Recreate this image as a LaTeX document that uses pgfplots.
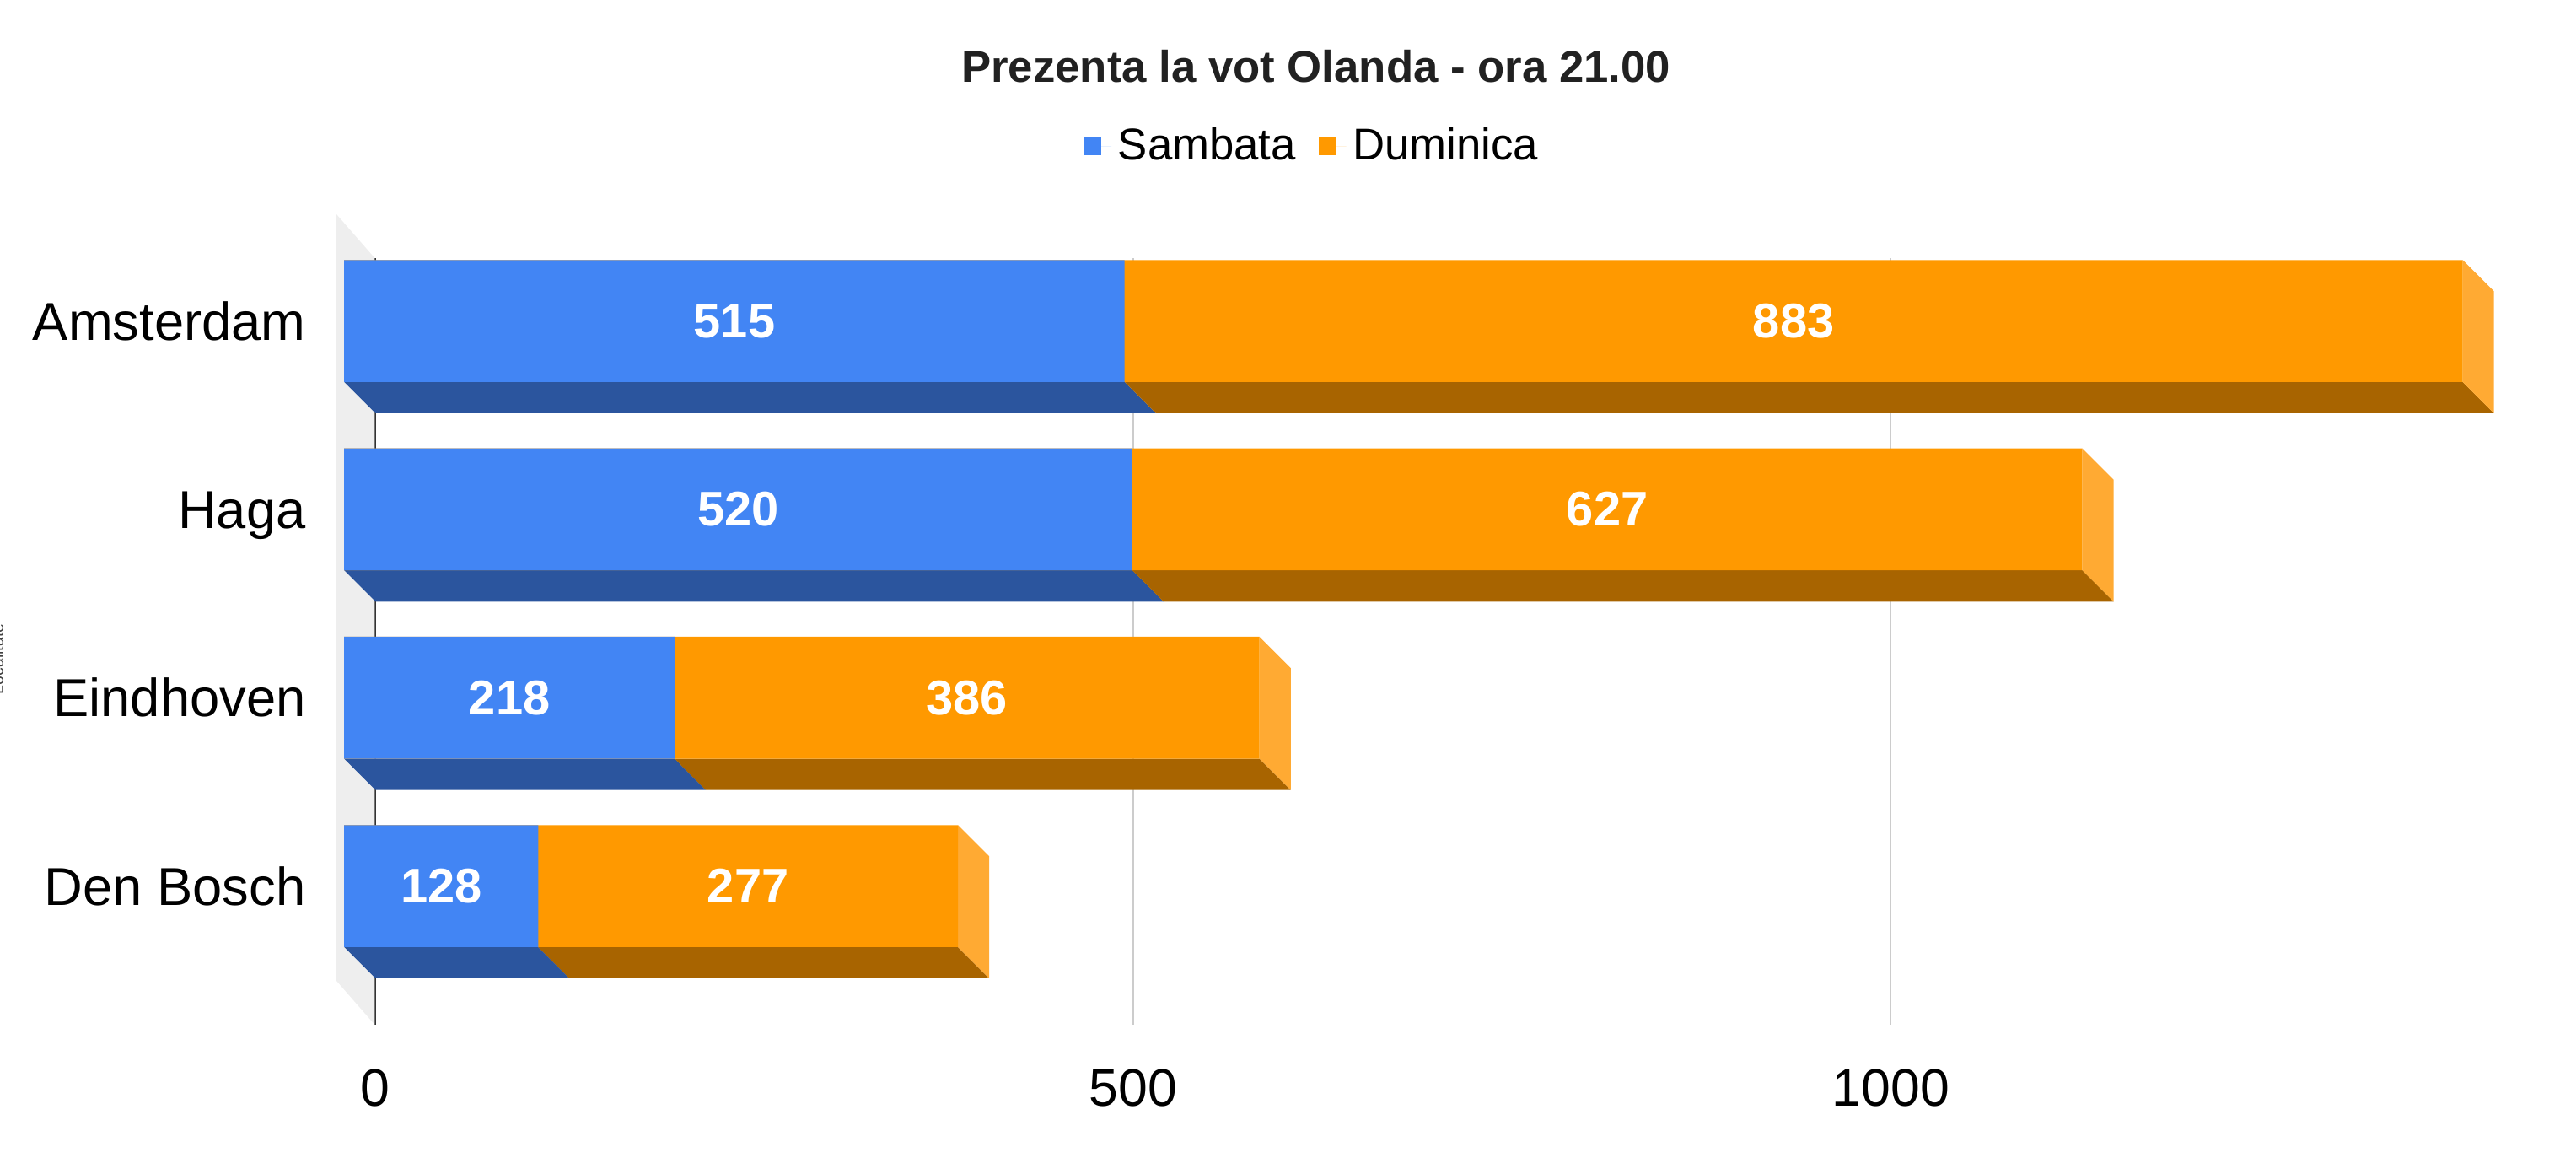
\documentclass[border=0pt]{standalone}
\usepackage{fontspec}
\setmainfont{Liberation Sans}
\usepackage{pgfplots}
\pgfplotsset{compat=1.18}
\usepackage{pgfplotstable}

\definecolor{cblue}{HTML}{4285F4}
\definecolor{cblueD}{HTML}{2B559E}
\definecolor{corange}{HTML}{FF9900}
\definecolor{corangeD}{HTML}{A86400}
\definecolor{corangeL}{HTML}{FFAA33}
\definecolor{wallgray}{HTML}{EEEEEE}
\definecolor{gridgray}{HTML}{CCCCCC}

\pgfplotstableread{
idx sam dum
0 515 883
1 520 627
2 218 386
3 128 277
}\data

\begin{document}
\begin{tikzpicture}
\useasboundingbox (-114pt,-40.25pt) rectangle (668pt,311pt);
\node[rotate=90, anchor=base, font=\fontsize{5}{6}\selectfont, text=black!75] at (-113pt,111pt) {Localitate};
\begin{axis}[
  scale only axis,
  width=657.8pt, height=232.67pt,
  xmin=0, xmax=1430,
  ymin=-0.5, ymax=3.57,
  y dir=reverse,
  clip=false,
  axis line style={draw=none},
  major tick length=0pt,
  xtick={0,500,1000},
  xticklabels={0,500,1000},
  ytick={0,1,2,3},
  yticklabels={Amsterdam,Haga,Eindhoven,Den Bosch},
  xmajorgrids,
  grid style={draw=gridgray, line width=0.5pt},
  extra x ticks={0},
  extra x tick labels={},
  extra x tick style={grid style={draw=black!80, line width=0.55pt}},
  /pgf/number format/assume math mode=true,
  xticklabel style={font=\fontsize{16}{19}\selectfont, anchor=base, yshift=-24.75pt},
  yticklabel style={font=\fontsize{16.2}{19}\selectfont, anchor=base east, inner sep=0pt, xshift=-21pt, yshift=3.7pt},
  legend image code/.code={\path (0pt,0pt) -- (8.3pt,0pt); \fill[#1] (0pt,-2.65pt) rectangle (5.3pt,2.65pt);},
  legend columns=2,
  legend style={draw=none, fill=none, at={(0.4333,1.1455)}, anchor=center,
    font=\fontsize{13.5}{16}\selectfont, inner sep=0pt,
    /tikz/every even column/.append style={column sep=5pt}},
]
% back wall
\addplot[fill=wallgray, draw=none, forget plot] coordinates {(-0.5,-0.5) (-26.1,-0.736) (-26.1,3.334) (-0.5,3.57)};
% depth faces
\foreach \c/\a/\b in {0/515/883,1/520/627,2/218/386,3/128/277}{
  \pgfmathsetmacro\s{\a+\b}
  \pgfmathsetmacro\ya{\c+0.3236-0.1662}
  \pgfmathsetmacro\yb{\c+0.3236}
  \pgfmathsetmacro\yc{\c-0.3236-0.1662}
  \pgfmathsetmacro\yd{\c-0.3236}
  \pgfmathsetmacro\xa{\a-20.65}
  \pgfmathsetmacro\xs{\s-20.65}
  \edef\tmp{%
    \noexpand\addplot[fill=cblueD, draw=none, forget plot] coordinates {(-20.65,\ya) (\xa,\ya) (\a,\yb) (0,\yb)};
    \noexpand\addplot[fill=corangeD, draw=none, forget plot] coordinates {(\xa,\ya) (\xs,\ya) (\s,\yb) (\a,\yb)};
    \noexpand\addplot[fill=corangeL, draw=none, forget plot] coordinates {(\xs,\yc) (\s,\yd) (\s,\yb) (\xs,\ya)};
  }
  \tmp
}
% front faces
\addplot[xbar, bar width=37pt, bar shift=0pt, fill=corange, draw=none, forget plot, xshift=-9.5pt, yshift=9.5pt]
  table[x expr=\thisrow{sam}+\thisrow{dum}, y=idx]{\data};
\addplot[xbar, bar width=37pt, bar shift=0pt, fill=cblue, draw=none, forget plot, xshift=-9.5pt, yshift=9.5pt]
  table[x=sam, y=idx]{\data};
% labels
\addplot[draw=none, forget plot, nodes near coords, point meta=explicit symbolic,
  every node near coord/.append style={anchor=center, text=white, font=\bfseries\fontsize{14.8}{17}\selectfont}]
  table[x expr=\thisrow{sam}/2-20.65, y expr=\thisrow{idx}-0.1662, meta=sam]{\data};
\addplot[draw=none, forget plot, nodes near coords, point meta=explicit symbolic,
  every node near coord/.append style={anchor=center, text=white, font=\bfseries\fontsize{14.8}{17}\selectfont}]
  table[x expr=\thisrow{sam}+\thisrow{dum}/2-20.65, y expr=\thisrow{idx}-0.1662, meta=dum]{\data};
% legend
\addlegendimage{fill=cblue, draw=none}
\addlegendentry{Sambata}
\addlegendimage{fill=corange, draw=none}
\addlegendentry{Duminica}
\end{axis}
\node[font=\bfseries\fontsize{13.5}{16}\selectfont, text=black!87, anchor=base] at (285.5pt,286.15pt) {Prezenta la vot Olanda - ora 21.00};
\end{tikzpicture}
\end{document}
